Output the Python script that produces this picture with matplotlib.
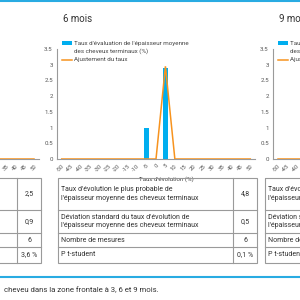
import matplotlib
matplotlib.use("Agg")
import matplotlib.pyplot as plt
from matplotlib.patches import Rectangle
import numpy as np

plt.rcParams['font.family'] = ['Roboto', 'DejaVu Sans']

# ---------------- data ----------------
categories = [-50, -45, -40, -35, -30, -25, -20, -15, -10, -5, 0,
              5, 10, 15, 20, 25, 30, 35, 40, 45, 50]
titles = ["3 mois", "6 mois", "9 mois"]

bars_3m = [0] * 21
fit_3m = [0] * 21
bars_6m = [0, 0, 0, 0, 0, 0, 0, 0, 0, 1, 0, 2.9, 0, 0, 0, 0, 0, 0, 0, 0, 0]
fit_6m = [0, 0, 0, 0, 0, 0, 0, 0, 0, 0, 0, 2.95, 0, 0, 0, 0, 0, 0, 0, 0, 0]
bars_9m = [0] * 21
fit_9m = [0] * 21

legend_bar = ["Taux d'évaluation de l'épaisseur moyenne", "des cheveux terminaux (%)"]
legend_fit = "Ajustement du taux"
xlabel = "Taux d'évolution (%)"
yticks = [0, 0.5, 1, 1.5, 2, 2.5, 3, 3.5]
ytick_labels = ["0", "0.5", "1", "1.5", "2", "2.5", "3", "3.5"]

row_labels = ["Taux d'évolution le plus probable de\nl'épaisseur moyenne des cheveux terminaux",
              "Déviation standard du taux d'évolution de\nl'épaisseur moyenne des cheveux terminaux",
              "Nombre de mesures",
              "P t-student"]
values_3m = ["2,5", "0,9", "6", "3,6 %"]
values_6m = ["4,8", "0,5", "6", "0,1 %"]
values_9m = ["", "", "", ""]

caption = "cheveu dans la zone frontale à 3, 6 et 9 mois."

# ---------------- style ----------------
BLUE = "#00aeef"
ORANGE = "#f7931e"
LINE_BLUE = "#29abe2"
GRAY = "#9a9a9a"
TXT = "#333333"

W = H = 300
fig = plt.figure(figsize=(3, 3), dpi=100)

def ax_rect(l, t, r, b):
    return [l / W, 1 - b / H, (r - l) / W, (b - t) / H]

offsets = [-216, 0, 216]
table_offsets = [-216, 0, 207]
series = [(bars_3m, fit_3m), (bars_6m, fit_6m), (bars_9m, fit_9m)]
values = [values_3m, values_6m, values_9m]

x = np.arange(len(categories))
for off, (bv, fv), title in zip(offsets, series, titles):
    ax = fig.add_axes(ax_rect(57 + off, 49, 255 + off, 159))
    ax.bar(x, bv, width=0.5, color=BLUE, zorder=2)
    ax.plot(x, fv, color=ORANGE, lw=1.1, zorder=3, solid_joinstyle='miter')
    ax.set_xlim(-0.5, len(categories) - 0.5)
    ax.set_ylim(0, 3.5)
    ax.set_yticks(yticks)
    ax.set_yticklabels(ytick_labels)
    ax.set_xticks(x)
    ax.set_xticklabels([str(c) for c in categories], rotation=45, ha='right',
                       rotation_mode='anchor')
    ax.tick_params(axis='y', length=0, labelsize=4.4, colors='#555555', pad=3)
    ax.tick_params(axis='x', length=0, labelsize=4.2, colors='#555555', pad=3)
    for s in ['top', 'right']:
        ax.spines[s].set_visible(False)
    for s in ['left', 'bottom']:
        ax.spines[s].set_color(GRAY)
        ax.spines[s].set_linewidth(0.8)
    ax.patch.set_alpha(0)
    ax.set_xlabel(xlabel, fontsize=4.4, color='#444444')
    ax.xaxis.set_label_coords(0.55, -0.155)
    # legend (manual, first-line aligned)
    fig.patches.append(Rectangle(((62 + off) / W, 1 - 45 / H), 10 / W, 4 / H,
                                 transform=fig.transFigure, facecolor=BLUE,
                                 edgecolor='none'))
    fig.lines.append(plt.Line2D([(62 + off) / W, (72 + off) / W], [1 - 60 / H, 1 - 60 / H],
                                transform=fig.transFigure, color=ORANGE, lw=1.1))
    fig.text((74 + off) / W, 1 - 43 / H, legend_bar[0], fontsize=4.5,
             color='#444444', ha='left', va='center')
    fig.text((74 + off) / W, 1 - 51.5 / H, legend_bar[1], fontsize=4.5,
             color='#444444', ha='left', va='center')
    fig.text((74 + off) / W, 1 - 60 / H, legend_fit, fontsize=4.5,
             color='#444444', ha='left', va='center')
    fig.text((63 + off) / W, 1 - 19 / H, title, fontsize=7, color=TXT,
             ha='left', va='center')

# overlay for tables, rules, caption
ov = fig.add_axes([0, 0, 1, 1])
ov.set_xlim(0, W)
ov.set_ylim(H, 0)
ov.axis('off')

rows_y = [178, 210, 233, 247, 263]
for off, vals in zip(table_offsets, values):
    L = 58 + off
    M = 233 + off
    R = 257 + off
    ov.add_patch(Rectangle((L, rows_y[0]), R - L, rows_y[-1] - rows_y[0],
                           fill=False, ec=GRAY, lw=0.8))
    ov.plot([M, M], [rows_y[0], rows_y[-1]], color=GRAY, lw=0.8)
    for yy in rows_y[1:-1]:
        ov.plot([L, R], [yy, yy], color=GRAY, lw=0.8)
    for i, (lab, v) in enumerate(zip(row_labels, vals)):
        yc = (rows_y[i] + rows_y[i + 1]) / 2
        ov.text(L + 3, yc, lab, fontsize=5.0, color=TXT, ha='left', va='center',
                linespacing=1.25)
        ov.text((M + R) / 2, yc, v, fontsize=5.0, color=TXT, ha='center', va='center')

ov.plot([0, W], [1, 1], color=LINE_BLUE, lw=1.5, solid_capstyle='butt')
ov.plot([0, W], [277, 277], color=LINE_BLUE, lw=1.5, solid_capstyle='butt')
ov.text(4, 290, caption, fontsize=5.6, color=TXT, ha='left', va='center')

fig.savefig("out.png", dpi=100)
